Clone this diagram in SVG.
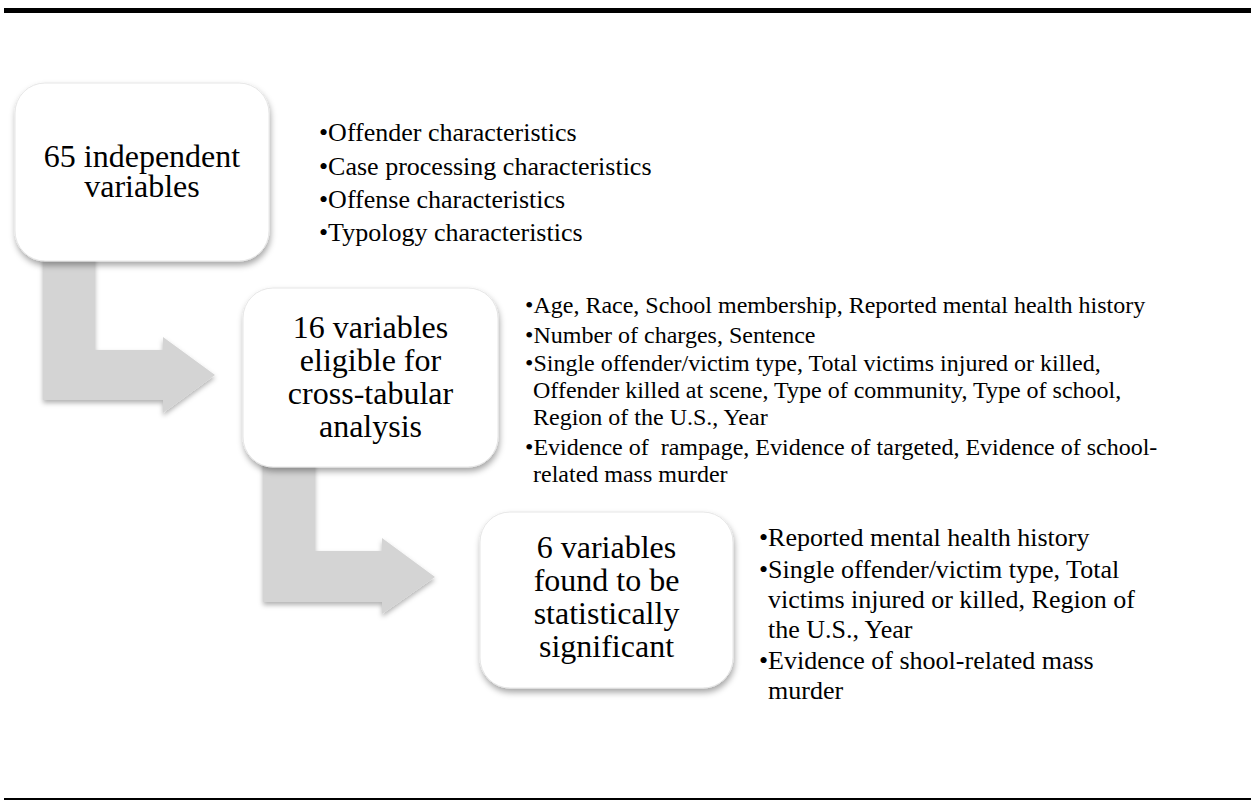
<svg xmlns="http://www.w3.org/2000/svg" width="1255" height="801" viewBox="0 0 1255 801">
<style>
.box{fill:#ffffff;stroke:#e6e6e6;stroke-width:1}
.arrow{fill:#d4d4d4}
text{font-family:'Liberation Serif','Times New Roman',Times,'DejaVu Serif',serif;fill:#000000}
.title{font-size:32px;text-anchor:middle}
.b26{font-size:26px}
.b24{font-size:24px}
</style>
<defs>
<filter id="sh" x="-20%" y="-20%" width="140%" height="150%">
<feDropShadow dx="1" dy="4" stdDeviation="3" flood-color="#000000" flood-opacity="0.35"/>
</filter>
<filter id="ash" x="-20%" y="-20%" width="140%" height="150%">
<feDropShadow dx="0" dy="3" stdDeviation="2.5" flood-color="#000000" flood-opacity="0.3"/>
</filter>
</defs>
<rect x="4" y="8" width="1247" height="5" fill="#000000"/>
<rect x="4" y="798" width="1247" height="2" fill="#000000"/>
<g id="connectors">
<polygon class="arrow" filter="url(#ash)" points="43,250 95,250 95,350 163,350 163,337 215,375 163,413 163,400 43,400"/>
<polygon class="arrow" filter="url(#ash)" points="263,455 315,455 315,551 382,551 382,538 435,577 382,614 382,602 263,602"/>
</g>
<g id="node1">
<rect class="box" filter="url(#sh)" x="15" y="83" width="254" height="178" rx="30" ry="30"/>
<text class="title" font-family="Liberation Serif, serif" x="142" y="167">65 independent</text>
<text class="title" font-family="Liberation Serif, serif" x="142" y="197">variables</text>
</g>
<g id="list1" font-family="Liberation Serif, serif" font-size="26">
<text class="b26" font-family="Liberation Serif, serif" x="319" y="141">•Offender characteristics</text>
<text class="b26" font-family="Liberation Serif, serif" x="319" y="175">•Case processing characteristics</text>
<text class="b26" font-family="Liberation Serif, serif" x="319" y="208">•Offense characteristics</text>
<text class="b26" font-family="Liberation Serif, serif" x="319" y="241">•Typology characteristics</text>
</g>
<g id="node2">
<rect class="box" filter="url(#sh)" x="243" y="288" width="255" height="179" rx="30" ry="30"/>
<text class="title" font-family="Liberation Serif, serif" x="370.5" y="338">16 variables</text>
<text class="title" font-family="Liberation Serif, serif" x="370.5" y="371">eligible for</text>
<text class="title" font-family="Liberation Serif, serif" x="370.5" y="404">cross-tabular</text>
<text class="title" font-family="Liberation Serif, serif" x="370.5" y="437">analysis</text>
</g>
<g id="list2">
<text class="b24" font-family="Liberation Serif, serif" x="525" y="313">•Age, Race, School membership, Reported mental health history</text>
<text class="b24" font-family="Liberation Serif, serif" x="525" y="343">•Number of charges, Sentence</text>
<text class="b24" font-family="Liberation Serif, serif" x="525" y="371">•Single offender/victim type, Total victims injured or killed,</text>
<text class="b24" font-family="Liberation Serif, serif" x="533" y="398">Offender killed at scene, Type of community, Type of school,</text>
<text class="b24" font-family="Liberation Serif, serif" x="533" y="425">Region of the U.S., Year</text>
<text class="b24" font-family="Liberation Serif, serif" x="525" y="455" xml:space="preserve">•Evidence of  rampage, Evidence of targeted, Evidence of school-</text>
<text class="b24" font-family="Liberation Serif, serif" x="533" y="482">related mass murder</text>
</g>
<g id="node3">
<rect class="box" filter="url(#sh)" x="480" y="512" width="253" height="176" rx="30" ry="30"/>
<text class="title" font-family="Liberation Serif, serif" x="606.5" y="558">6 variables</text>
<text class="title" font-family="Liberation Serif, serif" x="606.5" y="591">found to be</text>
<text class="title" font-family="Liberation Serif, serif" x="606.5" y="624">statistically</text>
<text class="title" font-family="Liberation Serif, serif" x="606.5" y="657">significant</text>
</g>
<g id="list3">
<text class="b26" font-family="Liberation Serif, serif" x="759" y="546">•Reported mental health history</text>
<text class="b26" font-family="Liberation Serif, serif" x="759" y="578">•Single offender/victim type, Total</text>
<text class="b26" font-family="Liberation Serif, serif" x="768" y="608">victims injured or killed, Region of</text>
<text class="b26" font-family="Liberation Serif, serif" x="768" y="638">the U.S., Year</text>
<text class="b26" font-family="Liberation Serif, serif" x="759" y="669">•Evidence of shool-related mass</text>
<text class="b26" font-family="Liberation Serif, serif" x="768" y="699">murder</text>
</g>
</svg>
